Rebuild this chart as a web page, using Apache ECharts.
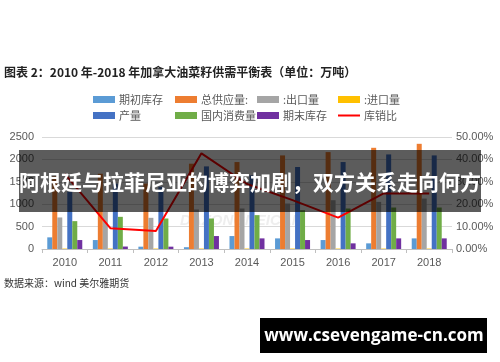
<!DOCTYPE html>
<html>
<head>
<meta charset="utf-8">
<script src="https://cdn.jsdelivr.net/npm/echarts@6/dist/echarts.min.js"></script>
<style>
html,body{margin:0;padding:0;background:#fff;}
#c{width:500px;height:362px;}
</style>
</head>
<body>
<div id="c"></div>
<script>
var years = ['2010','2011','2012','2013','2014','2015','2016','2017','2018'];
var beginStock = [260, 200, 52, 40, 289, 237, 200, 126, 237];
var totalSupply = [1620, 1680, 1460, 1904, 1941, 2089, 2163, 2259, 2348];
var exportsQ = [704, 830, 696, 882, 904, 1015, 1089, 1052, 1126];
var importsQ = [10, 10, 10, 10, 10, 10, 10, 10, 10];
var production = [1280, 1460, 1390, 1844, 1644, 1830, 1941, 2111, 2089];
var domestic = [622, 718, 681, 681, 756, 867, 904, 926, 926];
var endStock = [200, 55, 52, 289, 237, 200, 126, 237, 237];
var stockRatio = [0.335, 0.093, 0.08, 0.427, 0.29, 0.218, 0.14, 0.248, 0.248];
var leftTicks = [0, 500, 1000, 1500, 2000, 2500];
var rightTicks = [0, 0.1, 0.2, 0.3, 0.4, 0.5];

var names = ['期初库存','总供应量:',':出口量',':进口量','产量','国内消费量','期末库存','库销比'];
var colors = ['#5B9BD5','#ED7D31','#A5A5A5','#FFC000','#4472C4','#70AD47','#7030A0','#FF0000'];
var barData = [beginStock, totalSupply, exportsQ, importsQ, production, domestic, endStock];

var legendPos = [[93,94],[175,94],[257,94],[338,94],[93,110],[175,110],[257,110],[338,110]];
var legends = names.map(function(n,i){
  var isLine = (i === 7);
  return {
    data:[{name:n, icon:'rect'}], left:legendPos[i][0], top:legendPos[i][1] + (isLine ? 0 : 0), padding:0,
    itemWidth:22, itemHeight: isLine ? 2 : 7, itemGap:0,
    textStyle:{fontSize:11, color:'#595959', fontFamily:'Noto Sans CJK SC', padding:[0,0,0,-1]},
    selectedMode:false
  };
});

var series = barData.map(function(d,i){
  return {
    name:names[i], type:'bar', data:d, barWidth:5, barGap:'0%',
    itemStyle:{color:colors[i]}, z:3
  };
});
series.push({
  name:names[7], type:'line', yAxisIndex:1, data:stockRatio,
  showSymbol:false, symbol:'none', lineStyle:{color:'#FF0000', width:2},
  itemStyle:{color:'#FF0000'}, z:5
});

var chart = echarts.init(document.getElementById('c'), null, {renderer:'canvas'});
chart.setOption({
  animation:false,
  backgroundColor:'#fff',
  title:{
    text:'图表 2：2010 年-2018 年加拿大油菜籽供需平衡表（单位：万吨）',
    left:4, top:66, padding:0,
    textStyle:{fontSize:12, fontWeight:'bold', color:'#222', fontFamily:'Noto Sans CJK SC'}
  },
  legend:legends,
  grid:{left:42, right:48, top:137, bottom:113, containLabel:false},
  xAxis:{
    type:'category', data:years, boundaryGap:true,
    axisLine:{lineStyle:{color:'#BFBFBF'}},
    axisTick:{show:true, alignWithLabel:false, length:4, lineStyle:{color:'#BFBFBF'}},
    axisLabel:{fontSize:11, color:'#595959', fontFamily:'Liberation Sans', margin:8}
  },
  yAxis:[{
    type:'value', min:leftTicks[0], max:leftTicks[leftTicks.length-1], interval:500,
    axisLine:{show:false}, axisTick:{show:false},
    splitLine:{lineStyle:{color:'#D9D9D9'}},
    axisLabel:{fontSize:11, color:'#595959', fontFamily:'Liberation Sans', margin:8,
      formatter:function(v){return String(v);}}
  },{
    type:'value', min:rightTicks[0], max:rightTicks[rightTicks.length-1], interval:0.1,
    axisLine:{show:false}, axisTick:{show:false}, splitLine:{show:false},
    axisLabel:{fontSize:11, color:'#595959', fontFamily:'Liberation Sans', margin:4,
      formatter:function(v){return (v*100).toFixed(2)+'%';}}
  }],
  series:series,
  graphic:[
    {type:'text', left:180, top:213, z:1, silent:true,
     style:{text:'DAZONGNEICAN', fill:'rgba(200,200,200,0.3)', font:'italic bold 15px "Liberation Sans"'}},
    {type:'text', left:4, top:278, z:10,
     style:{text:'数据来源：wind 美尔雅期货', fill:'#333', font:'10px "Noto Sans CJK SC"'}},
    {type:'rect', shape:{x:19, y:150, width:462, height:62}, z:100,
     style:{fill:'rgba(0,0,0,0.64)'}},
    {type:'text', x:250, y:182, z:101,
     style:{text:'阿根廷与拉菲尼亚的博弈加剧，双方关系走向何方', fill:'#fff',
       font:'bold 21px "Noto Sans CJK SC"', textAlign:'center', textVerticalAlign:'middle'}},
    {type:'rect', shape:{x:260, y:318, width:227, height:35}, z:100,
     style:{fill:'#000'}},
    {type:'text', x:374, y:336, z:101,
     style:{text:'www.csevengame-cn.com', fill:'#fff',
       font:'bold 17px "Open Sans"', textAlign:'center', textVerticalAlign:'middle'}}
  ]
});
</script>
</body>
</html>
